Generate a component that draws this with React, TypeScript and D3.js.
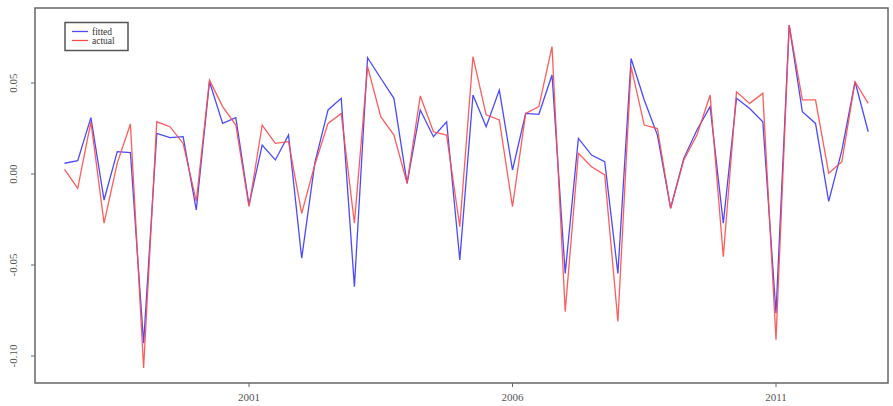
import React from "react";
import * as d3 from "d3";

// quarterly series starting 1997 Q3
const START = 1997.5;
const FREQ = 4;

const fitted = [
  0.0059, 0.0073, 0.031, -0.0143, 0.0123, 0.0117, -0.093, 0.0223, 0.02, 0.0205,
  -0.0198, 0.0507, 0.0278, 0.031, -0.017, 0.0159, 0.0077, 0.0214, -0.0463, 0.0062,
  0.0352, 0.0416, -0.0619, 0.0639, 0.0526, 0.0416, -0.0051, 0.0352, 0.0205, 0.0287,
  -0.0472, 0.0434, 0.026, 0.0461, 0.0022, 0.0333, 0.0328, 0.0544, -0.0546, 0.0196,
  0.0104, 0.0068, -0.0546, 0.0635, 0.0407, 0.0214, -0.0188, 0.0086, 0.0242, 0.037,
  -0.027, 0.0416, 0.036, 0.0287, -0.0765, 0.0818, 0.0342, 0.0278, -0.015, 0.013,
  0.0507, 0.0232,
];

const actual = [
  0.0026, -0.0079, 0.0287, -0.027, 0.006, 0.0275, -0.1066, 0.0287, 0.026, 0.0168,
  -0.015, 0.0516, 0.037, 0.0269, -0.018, 0.0269, 0.0168, 0.0178, -0.0216, 0.0052,
  0.0278, 0.0333, -0.027, 0.059, 0.0315, 0.0214, -0.0051, 0.0429, 0.0232, 0.0214,
  -0.029, 0.0645, 0.0325, 0.0297, -0.018, 0.0333, 0.037, 0.07, -0.0756, 0.0114,
  0.004, -0.0005, -0.081, 0.059, 0.0269, 0.025, -0.0188, 0.0077, 0.0214, 0.0434,
  -0.0454, 0.0452, 0.0388, 0.0443, -0.091, 0.0818, 0.0407, 0.0407, 0.0004, 0.0068,
  0.0507, 0.0388,
];

const yTicks = [-0.1, -0.05, 0, 0.05];
const xTicks = [2001, 2006, 2011];
const legendItems = [
  { label: "fitted", color: "#4a4aff" },
  { label: "actual", color: "#ff4a4a" },
];

export default function App() {
  const W = 893;
  const H = 406;
  const box = { left: 35, top: 8, right: 888, bottom: 383 };

  const x = d3.scaleLinear().domain([2001, 2011]).range([249, 776]);
  const y = d3.scaleLinear().domain([0, 0.05]).range([174, 83]);

  const times = fitted.map((_, i) => START + i / FREQ);
  const line = d3
    .line<number>()
    .x((_, i) => x(times[i]))
    .y((d) => y(d));

  const font = "'Liberation Serif', 'DejaVu Serif', serif";

  return (
    <div style={{ position: "absolute", left: 0, top: 0 }}>
      <svg width={W} height={H} style={{ display: "block", background: "#fff" }}>
        <path d={line(fitted) || ""} fill="none" stroke={legendItems[0].color} strokeWidth={1.3} />
        <path d={line(actual) || ""} fill="none" stroke={legendItems[1].color} strokeWidth={1.3} strokeOpacity={0.9} />

        <rect
          x={box.left}
          y={box.top}
          width={box.right - box.left}
          height={box.bottom - box.top}
          fill="none"
          stroke="#666"
          strokeWidth={1.5}
        />

        {yTicks.map((t) => (
          <g key={t}>
            <line x1={box.left} x2={box.left - 4} y1={y(t)} y2={y(t)} stroke="#666" strokeWidth={1} />
            <text
              transform={`translate(17,${y(t)}) rotate(-90)`}
              textAnchor="middle"
              fontFamily={font}
              fontSize={11}
              fill="#555"
            >
              {t === 0 ? "0.00" : t.toFixed(2)}
            </text>
          </g>
        ))}

        {xTicks.map((t) => (
          <g key={t}>
            <line x1={x(t)} x2={x(t)} y1={box.bottom} y2={box.bottom + 4} stroke="#666" strokeWidth={1} />
            <text x={x(t)} y={401} textAnchor="middle" fontFamily={font} fontSize={11} fill="#555">
              {t}
            </text>
          </g>
        ))}

        <rect x={65} y={22.5} width={63} height={28} fill="#fff" stroke="#555" strokeWidth={1.5} />
        {legendItems.map((it, i) => (
          <g key={it.label}>
            <line x1={72} x2={88} y1={31.5 + i * 9} y2={31.5 + i * 9} stroke={it.color} strokeWidth={1.3} />
            <text x={92} y={34.5 + i * 9} fontFamily={font} fontSize={9.5} fill="#333">
              {it.label}
            </text>
          </g>
        ))}
      </svg>
    </div>
  );
}
